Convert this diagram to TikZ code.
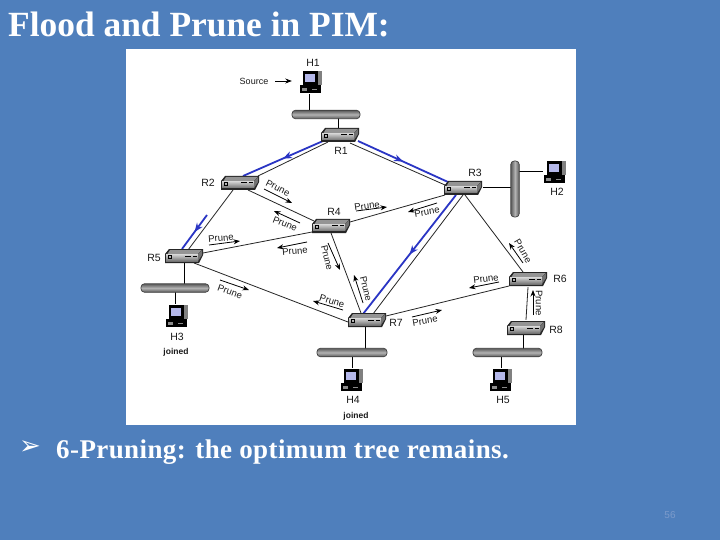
\documentclass[tikz,border=0pt]{standalone}
\usepackage{fontspec}
\setmainfont{Liberation Serif}
\setsansfont{Liberation Sans}
\newfontfamily\spacedfont[LetterSpace=1.5]{Liberation Serif}
\newfontfamily\symfont{DejaVu Sans}
\usetikzlibrary{arrows.meta,backgrounds,decorations.markings}
\definecolor{slideblue}{HTML}{4F7FBC}
\definecolor{floodblue}{HTML}{2A35C4}
\definecolor{pagenum}{HTML}{7C9BCB}
\tikzset{
  routerbox/.style={minimum width=40pt,minimum height=16pt,inner sep=0pt,
    path picture={\begin{scope}[shift={(path picture bounding box.center)}]
      \fill[black!85] (-19,-2) -- (-15,-7) -- (19,-7) -- (19,-1) -- (15,7) -- (-19,7) -- cycle;
      \fill[black!42] (-16.5,-2) -- (-14,-6) -- (17.5,-6) -- (14,-2) -- cycle;
      \shade[top color=black!18,bottom color=black!55] (-18,-1.5) rectangle (14,5);
      \fill[black!55] (14,-1.5) -- (18,-6) -- (18,-1) -- (14,5) -- cycle;
      \draw[black,line width=.5pt] (-16,-1) rectangle (-13,2);
      \draw[black,line width=1pt] (1,0) -- (7,0) (9,0) -- (13,0);
    \end{scope}}},
  hostbox/.style={minimum width=24pt,minimum height=24pt,inner sep=0pt,
    path picture={\begin{scope}[shift={(path picture bounding box.center)}]
      \fill[black!50] (5,-11) rectangle (11,3);
      \fill[black] (-8,-11) rectangle (7,3);
      \fill[floodblue!35!white] (-6,-8) rectangle (4,0);
      \fill[black] (-11,3) rectangle (10,11);
      \fill[black!45] (-9,6) rectangle (-4,9);
      \fill[black!45] (1,7) rectangle (6,8);
    \end{scope}}},
  lanbar/.style={draw=black!75,line width=.7pt,rounded corners=3.5pt,inner sep=0pt,
    shading=axis,top color=black!65,bottom color=black!65,middle color=black!30},
  lanh/.style={lanbar,minimum height=8.5pt},
  lanv/.style={lanbar,minimum width=8.5pt,shading angle=90},
  tag/.style={font=\sffamily\fontsize{10.5}{10}\selectfont,text=black!90,inner sep=0pt},
  prunetext/.style={font=\sffamily\fontsize{9.5}{10}\selectfont,text=black!90,inner sep=0pt},
  prunearrow/.style={-{Stealth[length=6.5pt,width=5pt]},line width=.8pt,black},
  link/.style={line width=.8pt,black!85},
  wire/.style={line width=1pt,black},
  flood/.style={line width=1.8pt,floodblue,postaction={decorate},
    decoration={markings,mark=at position 0.5 with {\arrow{Stealth[length=9pt,width=7pt]}}}},
}
\begin{document}
\begin{tikzpicture}[x=1pt,y=-1pt]
\useasboundingbox (0,0) rectangle (720,540);

% routers
\node[routerbox] (R1) at (340,135) {};
\node[routerbox] (R2) at (240,183) {};
\node[routerbox] (R3) at (463,188) {};
\node[routerbox] (R4) at (331,226) {};
\node[routerbox] (R5) at (184,256) {};
\node[routerbox] (R6) at (528,279) {};
\node[routerbox] (R7) at (367,320) {};
\node[routerbox] (R8) at (526,328) {};

% hosts
\node[hostbox] (H1) at (311,82) {};
\node[hostbox] (H2) at (555,172) {};
\node[hostbox] (H3) at (177,316) {};
\node[hostbox] (H4) at (352,380) {};
\node[hostbox] (H5) at (501,380) {};

% lans
\node[lanh,minimum width=68pt] (LANa) at (326,114.5) {};
\node[lanv,minimum height=56pt] (LANb) at (515,189) {};
\node[lanh,minimum width=68pt] (LANc) at (175,288) {};
\node[lanh,minimum width=70pt] (LANd) at (352,352.5) {};
\node[lanh,minimum width=69pt] (LANe) at (507.5,352.5) {};

% labels
\node[tag] (lR1) at (341,151) {R1};
\node[tag] (lR2) at (208,183) {R2};
\node[tag] (lR3) at (475,173) {R3};
\node[tag] (lR4) at (334,212) {R4};
\node[tag] (lR5) at (154,258) {R5};
\node[tag] (lR6) at (560,279) {R6};
\node[tag] (lR7) at (396,323) {R7};
\node[tag] (lR8) at (556,330) {R8};
\node[tag] (lH1) at (313,63) {H1};
\node[tag] (lH2) at (557,192) {H2};
\node[tag] (lH3) at (177,337) {H3};
\node[tag] (lH4) at (353,400) {H4};
\node[tag] (lH5) at (503,400) {H5};
\node[tag,font=\sffamily\fontsize{9}{10}\selectfont] (source) at (254,81) {Source};
\node[tag,font=\sffamily\bfseries\fontsize{8.5}{10}\selectfont] (joinedc) at (176,352) {joined};
\node[tag,font=\sffamily\bfseries\fontsize{8.5}{10}\selectfont] (joinedd) at (356,416) {joined};

% prune labels with their arrows
\foreach \n/\tx/\ty/\a/\sx/\sy/\ex/\ey in {
  a/278/188/-27/264/189/292/203,
  b/285/224/-22/300/223/274/211,
  c/367/206/8/356/211/387/207,
  d/427/212/10/437/203/408/212,
  e/221/238/5/209/245/240/241,
  f/295/251/5/307/242/277/248,
  g/327/258/-76/328/243/340/270,
  h/366/289/-76/363/303/354/275,
  i/230/292/-20/220/280/249/290,
  j/332/301/-17/343/310/313/301,
  k/523/251/-60/523/263/509/243,
  l/486/279/7/499/282/469/288,
  m/425/321/10/412/317/442/310,
  n/539/303/-90/533/315/533/290}{
  \node[prunetext,rotate=\a] (prune\n) at (\tx,\ty) {Prune};
  \coordinate (from\n) at (\sx,\sy);
  \coordinate (to\n) at (\ex,\ey);
  \draw[prunearrow] (from\n) -- (to\n);
}

% source arrow
\draw[prunearrow,shorten <=7pt,shorten >=7pt] (source.east) -- (source.east -| H1.west);

% headings
\node[anchor=base west,inner sep=0pt,text=white,font=\bfseries\fontsize{35.4}{36}\selectfont] (title) at (8,37) {Flood and Prune in PIM:};
\node[inner sep=0pt,text=white,font=\symfont\fontsize{26}{28}\selectfont] (bullet) at (30,448) {➢};
\node[anchor=base west,inner sep=0pt,text=white,font=\spacedfont\bfseries\fontsize{27}{28}\selectfont] (point) at (56,458) {6-Pruning: the optimum tree remains.};
\node[inner sep=0pt,text=pagenum,font=\sffamily\fontsize{10}{12}\selectfont] (pagenr) at (670,515) {56};

\begin{scope}[on background layer]
\fill[slideblue] (0,0) rectangle (720,540);
\fill[white] (126,49) rectangle (576,425);
% links
\draw[link] ([shift={(-12,7)}]R1.center) -- ([shift={(18,-7)}]R2.center);
\draw[link] ([shift={(10,8)}]R1.center) -- ([shift={(-18,-3)}]R3.center);
\draw[link] ([shift={(-7,7)}]R2.center) -- ([shift={(4,-6)}]R5.center);
\draw[link] ([shift={(8,7)}]R2.center) -- ([shift={(-17,-5)}]R4.center);
\draw[link] ([shift={(-18,7)}]R3.center) -- ([shift={(19,-4)}]R4.center);
\draw[link] ([shift={(-19,6)}]R4.center) -- ([shift={(19,-3)}]R5.center);
\draw[link] ([shift={(0,7)}]R4.center) -- ([shift={(-6,-7)}]R7.center);
\draw[link] ([shift={(10,7)}]R5.center) -- ([shift={(-19,2)}]R7.center);
\draw[link] ([shift={(0,7)}]R3.center) -- ([shift={(6,-6)}]R7.center);
\draw[link] ([shift={(2,7)}]R3.center) -- ([shift={(-5,-7)}]R6.center);
\draw[link] ([shift={(19,-4)}]R7.center) -- ([shift={(-19,7)}]R6.center);
\draw[link] (R6.south) -- (R8.north);
% flooded branches
\coordinate (floodtop) at (207,215);
\draw[flood] ([shift={(-17,6)}]R1.center) -- ([shift={(3,-7)}]R2.center);
\draw[flood] ([shift={(18,6)}]R1.center) -- ([shift={(-15,-6)}]R3.center);
\draw[flood] ([shift={(-7,7)}]R3.center) -- ([shift={(-4,-6)}]R7.center);
\draw[flood] (floodtop) -- ([shift={(-2,-7)}]R5.center);
% lan wires
\draw[wire] ([xshift=-2pt]H1.south) -- ([xshift=-2pt]H1.south |- LANa.center);
\draw[wire] ([xshift=-2pt]R1.center) -- ([xshift=-2pt]R1.center |- LANa.center);
\draw[wire] (R3.east) -- (R3.east -| LANb.center);
\draw[wire] (H2.west) -- (H2.west -| LANb.center);
\draw[wire] (R5.center) -- (R5.center |- LANc.center);
\draw[wire] ([xshift=-2pt]H3.north) -- ([xshift=-2pt]H3.north |- LANc.center);
\draw[wire] ([xshift=-2pt]R7.center) -- ([xshift=-2pt]R7.center |- LANd.center);
\draw[wire] (H4.north) -- (H4.north |- LANd.center);
\draw[wire] ([xshift=-3pt]R8.center) -- ([xshift=-3pt]R8.center |- LANe.center);
\draw[wire] (H5.north) -- (H5.north |- LANe.center);
\end{scope}
\end{tikzpicture}
\end{document}
